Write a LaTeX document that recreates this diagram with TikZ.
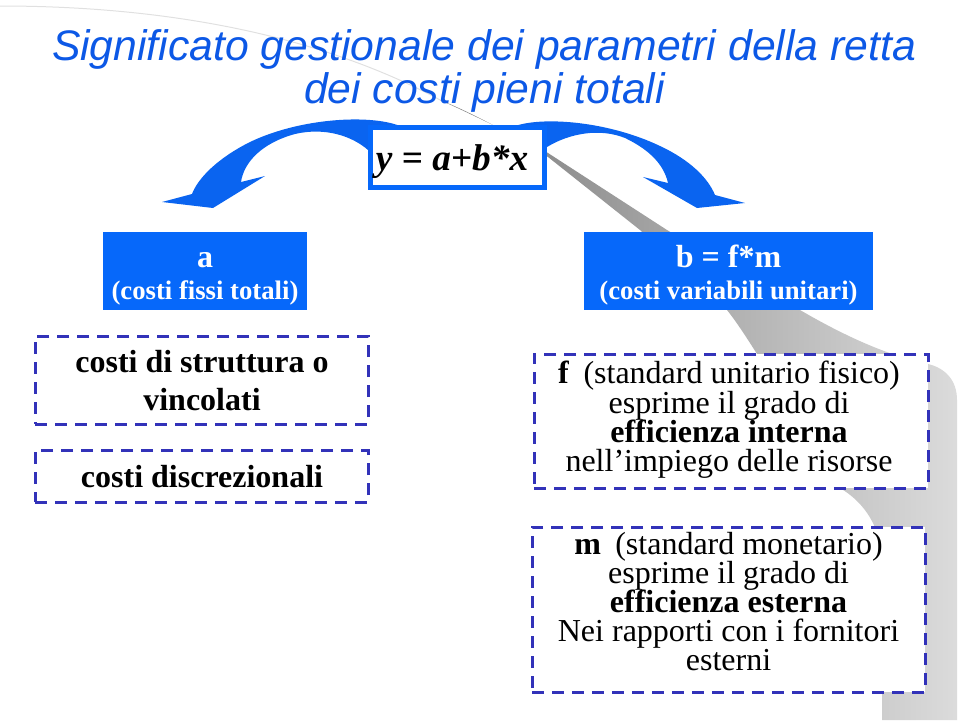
\documentclass[tikz,border=0pt]{standalone}
\usepackage{fontspec}
\setmainfont{Liberation Serif}
\newfontfamily\titlefont{Liberation Sans}
\definecolor{boxblue}{RGB}{6,104,250}
\definecolor{arrowblue}{RGB}{10,100,240}
\definecolor{titleblue}{RGB}{12,88,230}
\definecolor{dashblue}{RGB}{50,50,185}
\begin{document}
\begin{tikzpicture}[x=1pt,y=-1pt,
  dbox/.style={draw=dashblue, line width=3pt, dash pattern=on 12pt off 8pt, fill=white, inner sep=0pt},
  bbox/.style={fill=boxblue, inner sep=0pt},
  ln/.style={anchor=base, inner sep=0pt},
  big/.style={font=\fontsize{32}{30}\selectfont},
  bigb/.style={font=\bfseries\fontsize{32}{30}\selectfont},
  wb/.style={text=white, font=\bfseries\fontsize{32}{30}\selectfont},
  ws/.style={text=white, font=\bfseries\fontsize{26.7}{28}\selectfont},
  ttl/.style={anchor=base, inner sep=0pt, text=titleblue, font=\titlefont\itshape\fontsize{42.7}{44}\selectfont}
]
\useasboundingbox (0,0) rectangle (960,720);
% background swoosh
\draw[black!12, line width=1pt] (0,6) .. controls (180,6) and (330,40) .. (442,101);
\shade[left color=black!52, middle color=black!30, right color=black!14]
  (440,100) .. controls (480,118) and (515,136) .. (548,153) -- (667,230) -- (800,310)
  .. controls (860,345) and (900,358) .. (928,364)
  .. controls (945,368) and (957,380) .. (957,400) -- (957,720) -- (882,720) -- (882,555)
  .. controls (878,520) and (860,500) .. (840,488)
  .. controls (800,430) and (775,385) .. (757,354)
  .. controls (745,335) and (735,320) .. (727,310) -- (640,230) -- (548,157)
  .. controls (510,133) and (470,112) .. (440,100) -- cycle;
% curved arrows
\fill[arrowblue] (400,126) .. controls (370,114) and (300,118) .. (250,142)
  .. controls (218,158) and (198,178) .. (192,194) -- (162,202) -- (213,208) -- (265,176) -- (241,182)
  .. controls (244,162) and (262,143) .. (295,134)
  .. controls (325,127) and (352,136) .. (368,150) -- (400,165) -- cycle;
\fill[arrowblue] (515,126) .. controls (545,116) and (610,122) .. (660,146)
  .. controls (690,160) and (708,178) .. (715,195) -- (745,203) -- (697,208) -- (643,177) -- (668,183)
  .. controls (664,165) and (650,150) .. (625,138)
  .. controls (600,128) and (570,133) .. (547,147) -- (515,165) -- cycle;
% equation box
\node[draw=boxblue, line width=4pt, fill=white, minimum width=175pt, minimum height=61pt, inner sep=0pt] (eq) at (457.5,157.5) {};
\draw[boxblue, line width=1.3pt] ([shift={(4.5pt,-4.5pt)}]eq.north west) rectangle ([shift={(-4.5pt,4.5pt)}]eq.south east);
\node[ln, font=\bfseries\itshape\fontsize{37.3}{40}\selectfont] (eqt) at (452,170) {y = a+b*x};
% title
\node[ttl] (t1) at (484,60) {Significato gestionale dei parametri della retta};
\node[ttl] (t2) at (484.5,103) {dei costi pieni totali};
% blue boxes
\node[bbox, minimum width=204pt, minimum height=78pt] (a) at (205,271) {};
\node[ln, wb] (a1) at (205,267) {a};
\node[ln, ws] (a2) at (205,299) {(costi fissi totali)};
\node[bbox, minimum width=289pt, minimum height=78pt] (b) at (728.5,271) {};
\node[ln, wb] (b1) at (728.5,267) {b = f*m};
\node[ln, ws] (b2) at (728.5,299) {(costi variabili unitari)};
% left dashed boxes
\node[dbox, minimum width=333pt, minimum height=88pt] (s1) at (201.5,380) {};
\node[ln, bigb] (s1a) at (202,372) {costi di struttura o};
\node[ln, bigb] (s1b) at (202,410) {vincolati};
\node[dbox, minimum width=333pt, minimum height=52pt] (s2) at (201.5,476) {};
\node[ln, bigb] (s2a) at (202,487) {costi discrezionali};
% right dashed boxes
\node[dbox, minimum width=394pt, minimum height=134pt] (fb) at (731,421) {};
\node[ln, big] (f1) at (729,383) {\textbf{f}\hspace{0.45em}(standard unitario fisico)};
\node[ln, big] (f2) at (729,413) {esprime il grado di};
\node[ln, bigb] (f3) at (729,442) {efficienza interna};
\node[ln, big] (f4) at (729,471) {nell’impiego delle risorse};
\node[dbox, minimum width=393pt, minimum height=165pt] (mb) at (728.5,609.5) {};
\node[ln, big] (m1) at (728.5,554) {\textbf{m}\hspace{0.45em}(standard monetario)};
\node[ln, big] (m2) at (728.5,583) {esprime il grado di};
\node[ln, bigb] (m3) at (728.5,612) {efficienza esterna};
\node[ln, big] (m4) at (728.5,641) {Nei rapporti con i fornitori};
\node[ln, big] (m5) at (728.5,670) {esterni};
\end{tikzpicture}
\end{document}
